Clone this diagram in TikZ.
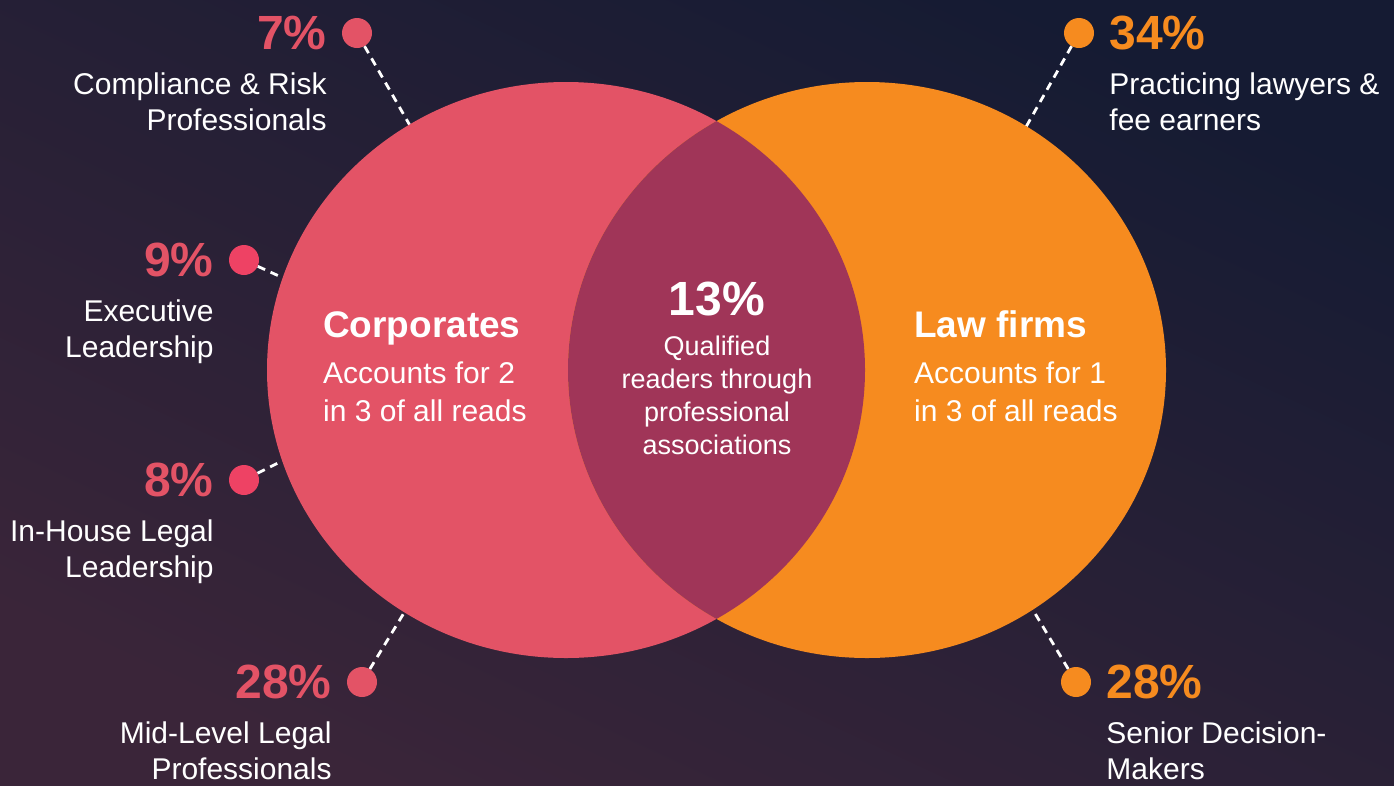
\documentclass[tikz,border=0pt]{standalone}
\usepackage{fontspec}
\setmainfont{Liberation Sans}
\usetikzlibrary{positioning}

\definecolor{bgtop}{HTML}{151B33}
\definecolor{bgbot}{HTML}{3A2539}
\definecolor{corpred}{HTML}{E35366}
\definecolor{dotred}{HTML}{EE4264}
\definecolor{laworange}{HTML}{F68B1F}
\definecolor{lensred}{HTML}{A03558}

\tikzset{
  pct/.style={font=\fontsize{48}{48}\selectfont\bfseries, inner sep=0pt},
  desc/.style={font=\fontsize{30}{36}\selectfont, text=white, inner sep=0pt},
  head/.style={font=\fontsize{37}{37}\selectfont\bfseries, text=white, inner sep=0pt},
  dotmark/.style={circle, minimum size=30pt, inner sep=0pt},
  leader/.style={white, line width=2.8pt, dash pattern=on 8pt off 6pt},
}

\begin{document}
\begin{tikzpicture}[x=1pt,y=-1pt]
  % backdrop
  \shade[top color=bgtop, bottom color=bgbot, shading angle=-25] (0,0) rectangle (1394,785);

  \coordinate (corpc) at (566,370);
  \coordinate (lawc) at (867,370);

  %% markers
  \node[dotmark, fill=corpred] (dot7) at (357,33) {};
  \node[dotmark, fill=dotred] (dot9) at (244,260) {};
  \node[dotmark, fill=dotred] (dot8) at (244,480) {};
  \node[dotmark, fill=corpred] (dot28c) at (362,682) {};
  \node[dotmark, fill=laworange] (dot34) at (1079,33) {};
  \node[dotmark, fill=laworange] (dot28l) at (1076,682) {};

  %% leader ends, tucked under the circles
  \coordinate (e7) at (416,136);
  \coordinate (e9) at (292,282);
  \coordinate (e8) at (292,456);
  \coordinate (e28c) at (410,603);
  \coordinate (e34) at (1022,134);
  \coordinate (e28l) at (1027,600);
  \draw[leader] (dot7) -- (e7);
  \draw[leader] (dot9) -- (e9);
  \draw[leader] (dot8) -- (e8);
  \draw[leader] (dot28c) -- (e28c);
  \draw[leader] (dot34) -- (e34);
  \draw[leader] (dot28l) -- (e28l);

  %% the two circles and their overlap
  \fill[corpred] (corpc) ellipse [x radius=299pt, y radius=288pt];
  \fill[laworange] (lawc) ellipse [x radius=299pt, y radius=288pt];
  \begin{scope}
    \clip (corpc) ellipse [x radius=299pt, y radius=288pt];
    \fill[lensred] (lawc) ellipse [x radius=299pt, y radius=288pt];
  \end{scope}

  %% corporate side
  \node[pct, text=corpred, left=15pt of dot7] (p7) {7\%};
  \node[desc, anchor=north east, align=right] (t7) at ([yshift=-23pt]p7.base east) {Compliance \& Risk\\Professionals};
  \node[pct, text=corpred, left=15pt of dot9] (p9) {9\%};
  \node[desc, anchor=north east, align=right] (t9) at ([yshift=-23pt]p9.base east) {Executive\\Leadership};
  \node[pct, text=corpred, left=15pt of dot8] (p8) {8\%};
  \node[desc, anchor=north east, align=right] (t8) at ([yshift=-23pt]p8.base east) {In-House Legal\\Leadership};
  \node[pct, text=corpred, left=15pt of dot28c] (p28c) {28\%};
  \node[desc, anchor=north east, align=right] (t28c) at ([yshift=-23pt]p28c.base east) {Mid-Level Legal\\Professionals};

  %% law firm side
  \node[pct, text=laworange, right=15pt of dot34] (p34) {34\%};
  \node[desc, anchor=north west, align=left] (t34) at ([yshift=-23pt]p34.base west) {Practicing lawyers \&\\fee earners};
  \node[pct, text=laworange, right=15pt of dot28l] (p28l) {28\%};
  \node[desc, anchor=north west, align=left] (t28l) at ([yshift=-23pt]p28l.base west) {Senior Decision-\\Makers};

  %% circle captions
  \node[head, anchor=base west] (corphead) at (323,337) {Corporates};
  \node[desc, anchor=north west, align=left, font=\fontsize{30}{38}\selectfont] (corpsub) at (323,362) {Accounts for 2\\in 3 of all reads};
  \node[head, anchor=base west] (lawhead) at (914,337) {Law firms};
  \node[desc, anchor=north west, align=left, font=\fontsize{30}{38}\selectfont] (lawsub) at (914,362) {Accounts for 1\\in 3 of all reads};
  \node[pct, text=white, anchor=base] (p13) at (717,315) {13\%};
  \node[desc, anchor=north, align=center, font=\fontsize{27}{33}\selectfont] (t13) at (717,336) {Qualified\\readers through\\professional\\associations};
\end{tikzpicture}
\end{document}
